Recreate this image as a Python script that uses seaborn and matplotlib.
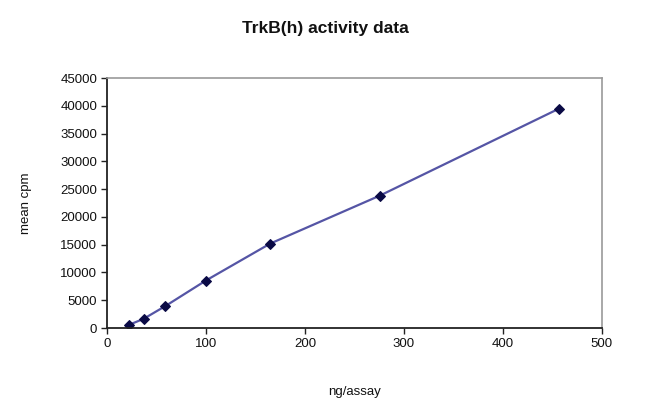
import matplotlib
matplotlib.use("Agg")
import matplotlib.pyplot as plt
import seaborn as sns
import pandas as pd

ng_assay = [22, 37, 59, 100, 165, 276, 457]
mean_cpm = [550, 1650, 3950, 8550, 15200, 23850, 39500]
x_ticks = [0, 100, 200, 300, 400, 500]
y_ticks = [0, 5000, 10000, 15000, 20000, 25000, 30000, 35000, 40000, 45000]

sns.set_theme(style="white")
plt.rcParams['font.family'] = ['Liberation Sans', 'DejaVu Sans']

df = pd.DataFrame({"ng/assay": ng_assay, "mean cpm": mean_cpm})

fig = plt.figure(figsize=(6.5, 4.13), dpi=100)
ax = fig.add_axes([0.1646, 0.2058, 0.7611, 0.6053])

sns.lineplot(data=df, x="ng/assay", y="mean cpm", ax=ax, color="#5555a5",
             linewidth=1.6, marker="D", markersize=5,
             markerfacecolor="#0a0a45", markeredgecolor="#0a0a45")

ax.set_xlim(0, 500)
ax.set_ylim(0, 45000)
ax.set_xticks(x_ticks)
ax.set_yticks(y_ticks)
ax.set_xticklabels([str(v) for v in x_ticks], fontsize=9.5, color="#111111")
ax.set_yticklabels([str(v) for v in y_ticks], fontsize=9.5, color="#111111")
ax.tick_params(axis="both", direction="out", length=4, width=1, color="#222222",
               bottom=True, left=True, pad=3)

for side in ["top", "right"]:
    ax.spines[side].set_color("#9a9a9a")
    ax.spines[side].set_linewidth(1.2)
for side in ["left", "bottom"]:
    ax.spines[side].set_color("#222222")
    ax.spines[side].set_linewidth(1.3)

ax.set_xlabel("ng/assay", fontsize=9.5, color="#111111", labelpad=26)
ax.set_ylabel("mean cpm", fontsize=9.5, color="#111111", labelpad=20)
fig.text(0.5, 0.932, "TrkB(h) activity data", ha="center", va="center",
         fontsize=12.5, fontweight="bold", color="#111111")

fig.savefig("out.png", dpi=100)
